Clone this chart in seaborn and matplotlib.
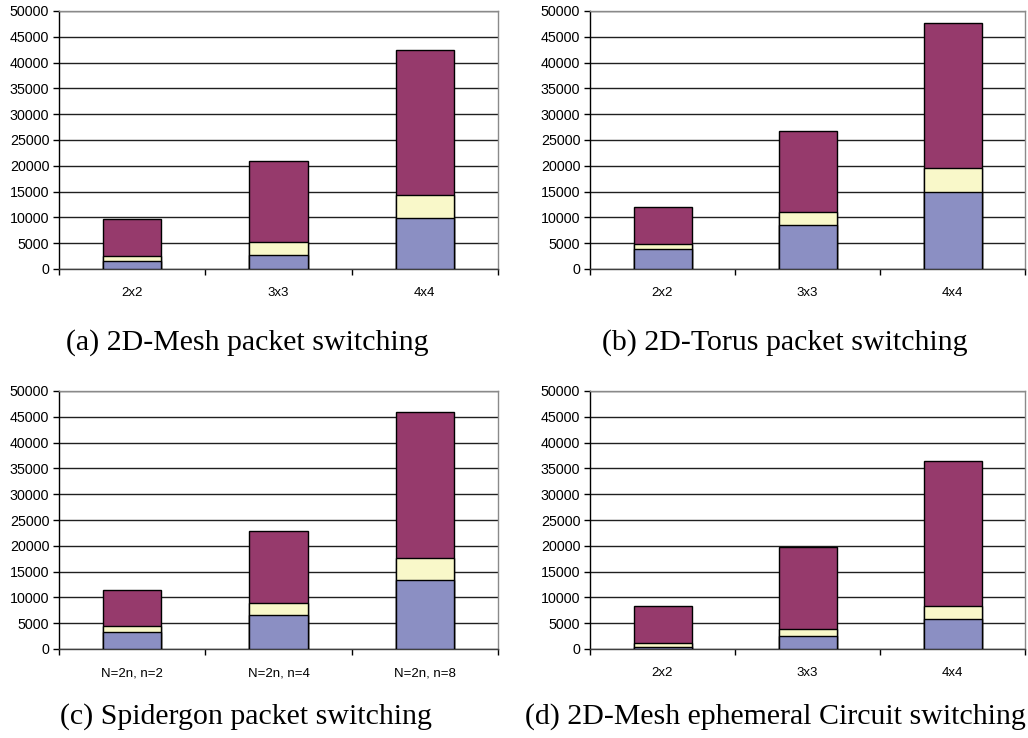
import numpy as np
import pandas as pd
import matplotlib
matplotlib.use("Agg")
import matplotlib.pyplot as plt
from matplotlib.ticker import MultipleLocator, FixedLocator
import seaborn as sns

# Stacked segment values (bottom: blue, middle: yellow, top: purple)
mesh_labels = ["2x2", "3x3", "4x4"]
mesh_blue = [1500, 2650, 9800]
mesh_yellow = [1100, 2550, 4500]
mesh_purple = [7100, 15800, 28100]

torus_labels = ["2x2", "3x3", "4x4"]
torus_blue = [3800, 8500, 15000]
torus_yellow = [1000, 2500, 4500]
torus_purple = [7200, 15800, 28100]

spider_labels = ["N=2n, n=2", "N=2n, n=4", "N=2n, n=8"]
spider_blue = [3200, 6600, 13300]
spider_yellow = [1200, 2300, 4400]
spider_purple = [7000, 14000, 28200]

circuit_labels = ["2x2", "3x3", "4x4"]
circuit_blue = [450, 2600, 5900]
circuit_yellow = [700, 1300, 2400]
circuit_purple = [7150, 15900, 28200]

captions = [
    "(a) 2D-Mesh packet switching",
    "(b) 2D-Torus packet switching",
    "(c) Spidergon packet switching",
    "(d) 2D-Mesh ephemeral Circuit switching",
]

BLUE = "#8b8fc3"
YELLOW = "#f9f8c9"
PURPLE = "#963a6c"

sns.set_style("white")
plt.rcParams["font.family"] = ["Liberation Sans", "DejaVu Sans"]

W, H = 1028, 738
fig = plt.figure(figsize=(W / 100, H / 100), dpi=100)


def add_panel(rect_px, labels, blue, yellow, purple, caption, cap_xy):
    left, top, right, bottom = rect_px
    ax = fig.add_axes([left / W, 1 - bottom / H, (right - left) / W, (bottom - top) / H])
    df = pd.DataFrame({
        "cat": labels,
        "blue": blue,
        "yellow": yellow,
        "purple": purple,
    })
    df["lvl1"] = df["blue"]
    df["lvl2"] = df["blue"] + df["yellow"]
    df["lvl3"] = df["lvl2"] + df["purple"]
    # draw cumulative stacks from the tallest down so each segment shows
    for col, color in (("lvl3", PURPLE), ("lvl2", YELLOW), ("lvl1", BLUE)):
        sns.barplot(data=df, x="cat", y=col, color=color, width=0.4,
                    edgecolor="black", linewidth=1.0, saturation=1, ax=ax,
                    zorder=3)
    ax.set_xlim(-0.5, 2.5)
    ax.set_ylim(0, 50000)
    ax.yaxis.set_major_locator(MultipleLocator(5000))
    ax.set_xlabel("")
    ax.set_ylabel("")
    ax.grid(axis="y", color="#202020", linewidth=1.0, zorder=0)
    ax.set_axisbelow(True)
    for s in ("top", "right"):
        ax.spines[s].set_visible(True)
        ax.spines[s].set_color("#8a8a8a")
        ax.spines[s].set_linewidth(1.0)
    ax.spines["left"].set_color("black")
    ax.spines["bottom"].set_color("#404040")
    ax.spines["left"].set_linewidth(1.0)
    ax.spines["bottom"].set_linewidth(1.0)
    ax.tick_params(axis="y", which="major", direction="out", length=4,
                   width=1, color="black", labelsize=10.3, pad=3,
                   left=True, labelcolor="black")
    ax.tick_params(axis="x", which="major", length=0, labelsize=9.5, pad=13,
                   labelcolor="black")
    ax.xaxis.set_minor_locator(FixedLocator([-0.5, 0.5, 1.5, 2.5]))
    ax.tick_params(axis="x", which="minor", direction="out", length=4,
                   width=1, color="black", bottom=True)
    fig.text(cap_xy[0] / W, 1 - cap_xy[1] / H, caption,
             family=["Liberation Serif", "DejaVu Serif"], fontsize=21.5,
             ha="center", va="center", color="black")
    return ax


add_panel((59, 11, 498, 269), mesh_labels, mesh_blue, mesh_yellow,
          mesh_purple, captions[0], (247, 343))
add_panel((590, 11, 1025, 269), torus_labels, torus_blue, torus_yellow,
          torus_purple, captions[1], (785, 343))
add_panel((59, 391, 498, 649), spider_labels, spider_blue, spider_yellow,
          spider_purple, captions[2], (246, 717))
add_panel((590, 391, 1025, 649), circuit_labels, circuit_blue, circuit_yellow,
          circuit_purple, captions[3], (775, 717))

fig.savefig("out.png", dpi=100)
